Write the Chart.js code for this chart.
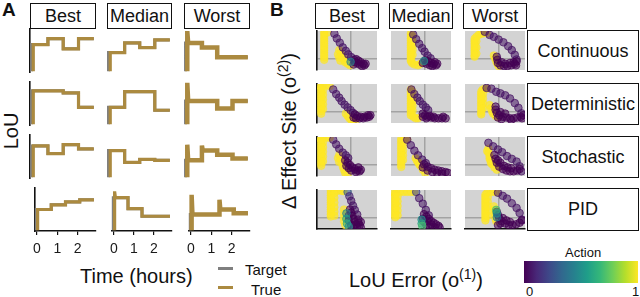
<!DOCTYPE html>
<html>
<head>
<meta charset="utf-8">
<script src="https://cdn.jsdelivr.net/npm/chart.js@4.4.0/dist/chart.umd.min.js"></script>
<style>
body { margin: 0; width: 640px; height: 297px; background: #fff; position: relative; overflow: hidden;
       font-family: "Liberation Sans", Arial, sans-serif; color: #111; }
canvas { position: absolute; }
.txt { position: absolute; white-space: nowrap; line-height: 1; }
.strip { position: absolute; box-sizing: border-box; border: 1.6px solid #111; background: #fff;
         display: flex; align-items: center; justify-content: center; font-size: 18px; }
.rot { position: absolute; white-space: nowrap; line-height: 1; transform: translate(-50%, -50%) rotate(-90deg); }
sup { font-size: 14px; vertical-align: 0; position: relative; top: -8px; }
</style>
</head>
<body>

<div class="txt" style="left:2px;top:0px;font-size:19px;font-weight:bold">A</div>
<div class="txt" style="left:270px;top:0px;font-size:19px;font-weight:bold">B</div>

<div class="strip" style="left:30px;top:3px;width:66px;height:26px">Best</div>
<div class="strip" style="left:107px;top:3px;width:65px;height:26px">Median</div>
<div class="strip" style="left:184px;top:3px;width:66px;height:26px">Worst</div>

<div class="strip" style="left:315px;top:3px;width:64px;height:26px">Best</div>
<div class="strip" style="left:389px;top:3px;width:64px;height:26px">Median</div>
<div class="strip" style="left:463px;top:3px;width:64px;height:26px">Worst</div>

<div class="strip" style="left:527px;top:30px;width:112px;height:42px">Continuous</div>
<div class="strip" style="left:527px;top:83px;width:112px;height:42px">Deterministic</div>
<div class="strip" style="left:527px;top:136px;width:112px;height:42px">Stochastic</div>
<div class="strip" style="left:527px;top:188px;width:112px;height:43px">PID</div>

<div class="rot" style="left:11px;top:131px;font-size:20px">LoU</div>
<div class="txt" style="left:80px;top:266px;font-size:20px">Time (hours)</div>

<div style="position:absolute;left:218px;top:267px;width:15px;height:3px;background:#7f7f7f"></div>
<div style="position:absolute;left:218px;top:286px;width:15px;height:3px;background:#ab8a40"></div>
<div class="txt" style="left:245px;top:262px;font-size:15px">Target</div>
<div class="txt" style="left:251px;top:282px;font-size:15px">True</div>

<div class="rot" style="left:289px;top:131px;font-size:20px">Δ Effect Site (o<sup>(2)</sup>)</div>
<div class="txt" style="left:349px;top:270px;font-size:20px">LoU Error (o<sup>(1)</sup>)</div>

<div class="txt" style="left:565px;top:246px;font-size:13px">Action</div>
<div id="cbar" style="position:absolute;left:524px;top:261px;width:114px;height:22px"></div>
<div class="txt" style="left:526px;top:285px;font-size:13px">0</div>
<div class="txt" style="left:632px;top:285px;font-size:13px">1</div>

<script>
// ---------- Panel A: LoU traces (hours) ----------
const stepTimes = [0, 0.7, 1.4, 2.1, 2.8];

const levelsBestContinuous   = [0.63, 0.77, 0.53, 0.77];
const levelsMedianContinuous = [0.44, 0.67, 0.56, 0.74];
const levelsWorstContinuous  = [0.67, 0.56, 0.33, 0.33];
const levelsBestDeterministic   = [0.79, 0.79, 0.74, 0.40];
const levelsMedianDeterministic = [0.40, 0.77, 0.77, 0.33];
const levelsWorstDeterministic  = [0.55, 0.55, 0.37, 0.55];
const levelsBestStochastic   = [0.74, 0.56, 0.77, 0.67];
const levelsMedianStochastic = [0.63, 0.35, 0.42, 0.40];
const levelsWorstStochastic  = [0.40, 0.63, 0.53, 0.44];
const levelsBestPID   = [0.49, 0.60, 0.67, 0.72];
const levelsMedianPID = [0.77, 0.51, 0.33, 0.33];
const levelsWorstPID  = [0.37, 0.37, 0.49, 0.40];

// overshoots of the true LoU at set-point changes: [time, peak]
const spikesWorstContinuous = [[0, 0.95]];
const spikesWorstDeterministic = [[0, 0.98]];
const spikesWorstStochastic = [[0, 0.77], [0.7, 0.75]];
const spikesMedianPID = [[0, 0.92]];
const spikesWorstPID = [[0, 0.84], [1.4, 0.72]];

// ---------- Panel B: phase portraits [LoU error, Δ effect site, action] ----------
const scatterBestContinuous = [
  [-45,68,1],[-45,62,1],[-45,56,1],[-45,50,1],[-45,44,1],[-45,38,1],[-45,32,1],[-45,26,1],[-45,20,1],[-45,14,1],[-45,8,1],[-45,2,1],[-45,-4,1],[-40,66,1],
  [-20,21,1],[-18,14,1],[-16,8,1],[-14,2,1],[-12,-4,1],[-10,-10,1],[-6,-14,1],[-2,-18,1],[-22,10,1],[-20,2,1],[-18,-6,1],
  [-28,63,0.05],[-24,51,0.05],[-19,40,0.05],[-14,28,0.05],[-9,19,0.05],[-5,10,0.05],[0,3,0.05],[5,-4,0.05],
  [8,-2,0],[12,-6,0],[16,-10,0],[20,-14,0],[22,-18,0],[14,-16,0],[10,-12,0],[6,-10,0],[18,-20,0],[24,-14,0],[4,-16,0],
  [-1,-9,0.45]
];
const scatterMedianContinuous = [
  [-24,63,1],[-24,57,1],[-24,51,1],[-24,45,1],[-24,39,1],[-24,33,1],[-24,27,1],[-24,21,1],[-24,15,1],[-24,9,1],[-24,3,1],[-24,-3,1],[-24,-7,1],
  [-21,57,1],[-21,45,1],[-21,33,1],[-21,21,1],[-21,9,1],[-22,-12,1],[-18,-16,1],[-12,-18,1],[-8,-14,1],
  [-20,61,0.05],[-15,49,0.05],[-10,37,0.05],[-5,26,0.05],[-1,17,0.05],[4,7,0.05],[9,0,0.05],
  [0,-5,0],[5,-8,0],[10,-12,0],[14,-15,0],[18,-18,0],[8,-18,0],[2,-14,0],[-4,-12,0],[12,-20,0],[16,-10,0],[20,-14,0],
  [-2,-7,0.5]
];
const scatterWorstContinuous = [
  [-21,65,1],[-26,64,1],[-30,63,1],[-34,60,1],[-38,55,1],
  [-41,50,1],[-41,44,1],[-41,38,1],[-41,32,1],[-41,26,1],[-41,20,1],[-41,14,1],[-41,8,1],[-41,4,1],[-38,44,1],[-38,28,1],[-38,12,1],
  [-9,7,1],[-7,0,1],[-5,-8,1],[-3,-14,1],[-1,-20,1],
  [-24,68,0.05],[-16,60,0.05],[-9,55,0.05],[-1,48,0.05],[7,41,0.05],[15,31,0.05],[21,21,0.05],[26,9,0.05],[29,-3,0.05],
  [-4,4,0],[-3,-4,0],[-2,-12,0],[2,-18,0],[8,-20,0],[14,-20,0],[20,-18,0],[26,-14,0],[29,-8,0],[24,-10,0],[10,-14,0],[4,-10,0],[18,-12,0],[28,-18,0]
];
const scatterBestDeterministic = [
  [-54,66,1],[-48,66,1],[-42,66,1],[-36,65,1],
  [-50,60,1],[-50,54,1],[-50,48,1],[-50,42,1],[-50,36,1],[-50,30,1],[-50,24,1],[-50,18,1],[-50,12,1],[-50,6,1],[-50,0,1],[-50,-6,1],
  [-47,54,1],[-47,42,1],[-47,30,1],[-47,18,1],[-47,6,1],
  [-9,-6,1],[-6,-12,1],[-3,-18,1],[0,-22,1],[3,-26,1],[6,-28,1],
  [-30,56,0.05],[-25,44,0.05],[-20,35,0.05],[-16,26,0.05],[-11,17,0.05],[-6,10,0.05],[-1,3,0.05],[3,-4,0.05],
  [6,-8,0],[10,-12,0],[16,-14,0],[22,-14,0],[28,-10,0],[32,-10,0],[26,-16,0],[14,-18,0],[8,-18,0],[4,-16,0],[20,-18,0],[30,-14,0]
];
const scatterMedianDeterministic = [
  [-24,56,1],[-24,50,1],[-24,44,1],[-24,38,1],[-24,32,1],[-24,26,1],[-24,20,1],[-24,14,1],[-24,8,1],[-24,2,1],[-24,-4,1],[-24,-10,1],
  [-21,50,1],[-21,38,1],[-21,26,1],[-21,14,1],[-21,2,1],[-20,-14,1],[-16,-18,1],[-12,-18,1],
  [-23,56,0.05],[-18,44,0.05],[-13,35,0.05],[-9,26,0.05],[-4,17,0.05],[1,10,0.05],[5,3,0.05],
  [-4,-6,0],[0,-10,0],[4,-14,0],[10,-16,0],[16,-18,0],[22,-18,0],[28,-18,0],[34,-18,0],[2,-18,0],[-4,-14,0],[8,-12,0],[14,-14,0],[30,-14,0]
];
const scatterWorstDeterministic = [
  [-20,58,1],[-24,58,1],[-28,55,1],
  [-30,50,1],[-30,44,1],[-30,38,1],[-30,32,1],[-30,26,1],[-30,20,1],[-30,14,1],[-30,8,1],[-30,2,1],[-30,-4,1],[-30,-8,1],
  [-27,44,1],[-27,32,1],[-27,20,1],[-27,8,1],
  [-16,16,1],[-14,8,1],[-12,0,1],[-10,-6,1],[-6,-12,1],[-2,-15,1],
  [-21,60,0.05],[-13,58,0.05],[-5,50,0.05],[2,46,0.05],[10,41,0.05],[18,33,0.05],[26,21,0.05],[32,9,0.05],[37,-5,0.05],
  [-6,12,0],[-6,4,0],[-4,-4,0],[0,-10,0],[6,-14,0],[12,-16,0],[18,-18,0],[24,-18,0],[30,-16,0],[36,-14,0],[40,-10,0],[2,-2,0],[10,-6,0],[-2,-16,0],[4,-20,0],[20,-22,0],[38,-18,0]
];
const scatterBestStochastic = [
  [-54,68,1],[-48,68,1],[-42,68,1],[-36,68,1],
  [-50,62,1],[-50,56,1],[-50,50,1],[-50,44,1],[-50,38,1],[-50,32,1],[-50,26,1],[-50,20,1],[-50,14,1],[-50,8,1],[-50,2,1],[-50,-4,1],
  [-47,56,1],[-47,44,1],[-47,32,1],[-47,20,1],[-47,8,1],
  [-20,24,1],[-18,14,1],[-16,4,1],[-14,-6,1],[-12,-14,1],[-10,-22,1],[-6,-26,1],[-22,16,1],[-20,6,1],
  [-30,63,0.05],[-25,51,0.05],[-20,40,0.05],[-14,30,0.05],[-9,23,0.05],[-5,16,0.05],
  [-10,10,0],[-6,4,0],[-2,-2,0],[2,-8,0],[6,-12,0],[10,-16,0],[14,-18,0],[16,-14,0],[8,-20,0],[0,-16,0],[-4,-10,0],[12,-8,0],[-8,-4,0]
];
const scatterMedianStochastic = [
  [-40,65,1],[-40,59,1],[-40,53,1],[-40,47,1],[-40,41,1],[-40,35,1],[-40,29,1],[-40,23,1],[-40,17,1],[-40,11,1],[-40,5,1],[-40,-1,1],[-40,-7,1],
  [-37,59,1],[-37,47,1],[-37,35,1],[-37,23,1],[-37,11,1],[-34,66,1],[-30,64,1],
  [-16,16,1],[-12,6,1],[-8,-4,1],[-4,-14,1],[0,-22,1],[-14,10,1],[-10,0,1],
  [-30,63,0.05],[-24,49,0.05],[-18,35,0.05],[-12,23,0.05],[-5,12,0.05],[1,3,0.05],
  [-2,0,0],[4,-6,0],[10,-10,0],[16,-14,0],[22,-16,0],[28,-18,0],[34,-20,0],[38,-22,0],[12,-20,0],[4,-16,0],[20,-22,0],[28,-24,0],[-4,-8,0]
];
const scatterWorstStochastic = [
  [-18,40,1],[-18,30,1],[-16,20,1],[-14,10,1],[-12,0,1],[-8,-8,1],[-4,-14,1],[-20,34,1],[-16,14,1],[-14,4,1],
  [-18,55,0.05],[-10,46,0.05],[-2,38,0.05],[5,31,0.05],[13,21,0.05],[21,14,0.05],[29,7,0.05],[34,-5,0.05],[37,-18,0.05],
  [-8,24,0],[-6,14,0],[-4,4,0],[0,-6,0],[6,-12,0],[12,-16,0],[18,-18,0],[24,-18,0],[30,-16,0],[34,-12,0],[2,4,0],[8,-4,0],[-2,10,0],[14,-8,0],[20,-10,0]
];
const scatterBestPID = [
  [-34,68,1],[-28,68,1],[-22,68,1],[-16,68,1],[-13,67,1],
  [-34,62,1],[-34,56,1],[-34,50,1],[-34,44,1],[-34,38,1],[-34,32,1],[-34,26,1],[-34,20,1],[-34,14,1],[-34,8,1],[-34,2,1],
  [-28,62,1],[-28,50,1],[-28,38,1],[-28,26,1],[-28,14,1],[-28,4,1],
  [-12,20,1],[-12,10,1],[-12,0,1],[-12,-10,1],[-10,-20,1],
  [-6,65,0.3],[-3,54,0.1],[0,42,0.05],[3,30,0.05],[6,19,0.05],[10,7,0.05],
  [-2,20,0],[0,12,0],[2,4,0],[4,-4,0],[6,-12,0],[8,-18,0],[10,-24,0],[14,-20,0],[16,-12,0],[12,-6,0],[-4,4,0],[-4,-8,0],[0,-20,0],[4,-26,0],[12,-14,0],[16,-26,0],
  [-8,10,0.45],[-8,-4,0.55],[-7,-16,0.6],[-4,-24,0.5]
];
const scatterMedianPID = [
  [-54,65,1],[-48,65,1],[-42,65,1],[-36,65,1],[-30,65,1],[-24,65,1],[-18,65,1],
  [-50,59,1],[-50,53,1],[-50,47,1],[-50,41,1],[-50,35,1],[-50,29,1],[-50,23,1],[-50,17,1],[-50,11,1],[-50,5,1],[-50,0,1],
  [-46,53,1],[-46,41,1],[-46,29,1],[-46,17,1],[-46,5,1],
  [-15,65,0.2],[-10,49,0.05],[-4,35,0.05],[1,19,0.05],[6,5,0.05],
  [-2,8,0],[2,2,0],[6,-4,0],[10,-10,0],[14,-14,0],[18,-18,0],[22,-22,0],[24,-26,0],[16,-26,0],[8,-24,0],[2,-20,0],[-2,-12,0],[-4,-4,0],[10,-18,0],[4,-10,0],
  [-6,-6,0.5],[-6,-16,0.6],[-5,-22,0.7]
];
const scatterWorstPID = [
  [-5,65,1],[-10,65,1],[-15,65,1],[-20,63,1],
  [-23,58,1],[-23,52,1],[-23,46,1],[-23,40,1],[-23,34,1],[-23,28,1],[-23,22,1],[-23,16,1],[-23,10,1],[-23,4,1],[-23,-2,1],[-23,-8,1],
  [-19,52,1],[-19,40,1],[-19,28,1],[-19,16,1],[-19,4,1],
  [-9,28,1],[-8,20,1],[-7,12,1],[-7,4,1],[-6,-4,1],[-5,-10,1],
  [-2,63,0.05],[6,55,0.05],[13,48,0.05],[21,36,0.05],[29,24,0.05],[34,11,0.05],[38,-6,0.05],
  [-4,14,0],[-2,6,0],[0,-2,0],[4,-10,0],[10,-16,0],[16,-20,0],[22,-20,0],[28,-18,0],[34,-14,0],[38,-8,0],[6,-2,0],[12,-8,0],[2,-16,0],[18,-12,0],[-2,-20,0],
  [-5,19,0.7],[-4,10,0.55],[-4,0,0.4]
];

// ---------- layout & style ----------
const TARGET_COLOR = '#7f7f7f';
const TRUE_COLOR = '#ab8a40';
const VIRIDIS = ['#440154','#482878','#3e4989','#31688e','#26828e','#1f9e89','#35b779','#6ece58','#b5de2b','#fde725'];

const colsA = [{ l: 30, r: 96 }, { l: 107, r: 172 }, { l: 184, r: 250 }];
const colsB = [{ l: 315, r: 379 }, { l: 389, r: 453 }, { l: 463, r: 527 }];
const rows = [{ t: 29, b: 72 }, { t: 82, b: 125 }, { t: 135, b: 178 }, { t: 188, b: 231 }];

Chart.defaults.font.family = '"Liberation Sans", Arial, sans-serif';
Chart.defaults.animation = false;

document.getElementById('cbar').style.background = 'linear-gradient(to right,' + VIRIDIS.join(',') + ')';

function hexToRgb(h) {
  return [parseInt(h.slice(1, 3), 16), parseInt(h.slice(3, 5), 16), parseInt(h.slice(5, 7), 16)];
}

function viridis(a, alpha) {
  const s = a * (VIRIDIS.length - 1);
  const i = Math.min(Math.floor(s), VIRIDIS.length - 2);
  const f = s - i;
  const c0 = hexToRgb(VIRIDIS[i]), c1 = hexToRgb(VIRIDIS[i + 1]);
  const c = c0.map((v, k) => Math.round(v + (c1[k] - v) * f));
  return `rgba(${c[0]},${c[1]},${c[2]},${alpha})`;
}

function makeCanvas(left, top, w, h) {
  const c = document.createElement('canvas');
  c.width = w; c.height = h;
  c.style.left = left + 'px'; c.style.top = top + 'px';
  c.style.width = w + 'px'; c.style.height = h + 'px';
  document.body.appendChild(c);
  return c;
}

function stepPoints(levels, start) {
  const pts = [{ x: start, y: 0 }];
  levels.forEach((v, i) => {
    pts.push({ x: i === 0 ? start : stepTimes[i], y: v });
    pts.push({ x: stepTimes[i + 1], y: v });
  });
  return pts;
}

function truePoints(levels, spikes) {
  const pts = [{ x: 0.03, y: 0 }];
  levels.forEach((v, i) => {
    const t0 = stepTimes[i] + (i === 0 ? 0.03 : 0);
    const sp = spikes.find(s => s[0] === stepTimes[i]);
    if (sp) {
      pts.push({ x: t0, y: sp[1] });
      pts.push({ x: t0 + 0.04, y: v });
    } else {
      pts.push({ x: t0, y: v });
    }
    pts.push({ x: stepTimes[i + 1], y: v });
  });
  return pts;
}

const panelBg = {
  id: 'panelBg',
  beforeDraw(chart, args, opts) {
    if (!opts.color) return;
    const { ctx, chartArea: a } = chart;
    ctx.save();
    ctx.fillStyle = opts.color;
    ctx.fillRect(a.left, a.top, a.right - a.left, a.bottom - a.top);
    ctx.restore();
  }
};

function drawTrace(col, row, levels, spikes) {
  const c = colsA[col], r = rows[row];
  const bottom = row === 3;
  const P = 3, AX = 26;
  const canvas = makeCanvas(c.l - P, r.t - P, c.r - c.l + 2 * P, r.b - r.t + 2 * P + (bottom ? AX : 0));
  new Chart(canvas, {
    type: 'scatter',
    data: {
      // first dataset is painted last, so the true trace sits over the target
      datasets: [
        { data: truePoints(levels, spikes), showLine: true, borderColor: TRUE_COLOR,
          borderWidth: col === 2 ? 4.5 : 3.2, pointRadius: 0 },
        { data: stepPoints(levels, -0.05), showLine: true, borderColor: TARGET_COLOR, borderWidth: 3, pointRadius: 0 }
      ]
    },
    options: {
      responsive: false,
      layout: { padding: P },
      plugins: { legend: { display: false }, tooltip: { enabled: false } },
      scales: {
        x: {
          type: 'linear', min: -0.12, max: 2.9, display: bottom,
          afterFit: s => { if (bottom) s.height = AX; },
          ticks: { stepSize: 1, includeBounds: false, font: { size: 14 }, color: '#1a1a1a', padding: 6, maxRotation: 0 },
          grid: { drawOnChartArea: false, tickLength: 4, color: '#111', lineWidth: 1.2 },
          border: { color: '#111', width: 1.6 }
        },
        y: {
          min: -0.02, max: 1.0, display: col === 0,
          ticks: { display: false },
          grid: { display: false, drawTicks: false },
          border: { color: '#111', width: 1.6 }
        }
      }
    }
  });
}

function drawPortrait(col, row, triples) {
  const c = colsB[col], r = rows[row];
  const P = 3;
  const canvas = makeCanvas(c.l - P, r.t - P, c.r - c.l + 2 * P, r.b - r.t + 2 * P);
  const pts = triples.map(p => ({ x: p[0], y: p[1], a: p[2] }));
  const zeroTick = s => { s.ticks = [{ value: 0 }]; };
  new Chart(canvas, {
    type: 'scatter',
    data: {
      datasets: [{
        data: pts,
        clip: 0,
        pointRadius: 3.8,
        borderWidth: 1,
        backgroundColor: ctx => viridis(ctx.raw.a, ctx.raw.a > 0.9 ? 0.7 : 0.55),
        borderColor: ctx => viridis(ctx.raw.a, ctx.raw.a > 0.9 ? 0.5 : 0.7)
      }]
    },
    plugins: [panelBg],
    options: {
      responsive: false,
      layout: { padding: P },
      plugins: { legend: { display: false }, tooltip: { enabled: false }, panelBg: { color: '#d3d3d3' } },
      scales: {
        x: {
          type: 'linear', min: -57, max: 43, afterBuildTicks: zeroTick,
          ticks: { display: false },
          grid: { color: '#a3a3a3', lineWidth: 1.5, drawTicks: false },
          border: { display: row === 3, color: '#111', width: 1.6 }
        },
        y: {
          type: 'linear', min: -30, max: 70, afterBuildTicks: zeroTick,
          ticks: { display: false },
          grid: { color: '#a3a3a3', lineWidth: 1.5, drawTicks: false },
          border: { display: col === 0, color: '#111', width: 1.6 }
        }
      }
    }
  });
}

drawTrace(0, 0, levelsBestContinuous, []);
drawTrace(1, 0, levelsMedianContinuous, []);
drawTrace(2, 0, levelsWorstContinuous, spikesWorstContinuous);
drawTrace(0, 1, levelsBestDeterministic, []);
drawTrace(1, 1, levelsMedianDeterministic, []);
drawTrace(2, 1, levelsWorstDeterministic, spikesWorstDeterministic);
drawTrace(0, 2, levelsBestStochastic, []);
drawTrace(1, 2, levelsMedianStochastic, []);
drawTrace(2, 2, levelsWorstStochastic, spikesWorstStochastic);
drawTrace(0, 3, levelsBestPID, []);
drawTrace(1, 3, levelsMedianPID, spikesMedianPID);
drawTrace(2, 3, levelsWorstPID, spikesWorstPID);

drawPortrait(0, 0, scatterBestContinuous);
drawPortrait(1, 0, scatterMedianContinuous);
drawPortrait(2, 0, scatterWorstContinuous);
drawPortrait(0, 1, scatterBestDeterministic);
drawPortrait(1, 1, scatterMedianDeterministic);
drawPortrait(2, 1, scatterWorstDeterministic);
drawPortrait(0, 2, scatterBestStochastic);
drawPortrait(1, 2, scatterMedianStochastic);
drawPortrait(2, 2, scatterWorstStochastic);
drawPortrait(0, 3, scatterBestPID);
drawPortrait(1, 3, scatterMedianPID);
drawPortrait(2, 3, scatterWorstPID);
</script>
</body>
</html>
